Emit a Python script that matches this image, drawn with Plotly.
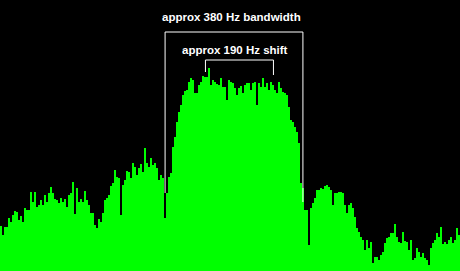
import plotly.graph_objects as go

# Spectrum levels (arbitrary units), one per 5.5 Hz bin
levels = [
    45, 36, 44, 44, 53, 49, 56, 60, 59, 51, 55, 49, 63, 61, 61, 79, 69, 79, 64, 66,
    71, 66, 76, 69, 78, 84, 78, 72, 71, 68, 73, 69, 72, 64, 76, 78, 89, 57, 83, 69,
    72, 69, 80, 71, 66, 58, 58, 46, 43, 52, 49, 58, 71, 73, 76, 85, 88, 101, 94, 93,
    56, 86, 91, 100, 99, 93, 108, 104, 96, 103, 107, 99, 123, 108, 104, 113, 106, 108, 103, 91,
    96, 93, 53, 78, 94, 98, 124, 134, 149, 159, 166, 176, 180, 181, 189, 193, 191, 178, 178, 186,
    189, 195, 194, 194, 203, 186, 191, 189, 187, 186, 193, 184, 184, 171, 191, 189, 188, 183, 176, 183,
    185, 178, 186, 188, 188, 181, 188, 189, 166, 188, 184, 193, 184, 188, 181, 189, 186, 181, 178, 189,
    183, 179, 178, 176, 164, 151, 149, 144, 139, 128, 88, 83, 61, 61, 26, 63, 68, 73, 81, 81,
    83, 82, 85, 86, 84, 81, 66, 78, 78, 79, 79, 78, 66, 58, 66, 68, 63, 54, 43, 39,
    34, 31, 21, 31, 23, 29, 8, 14, 14, 11, 16, 19, 28, 33, 34,
    38, 38, 47, 34, 29, 28, 39, 30, 29, 21, 31, 11, 13, 23, 19, 14, 18, 13, 11, 6,
    23, 28, 31, 38, 34, 44, 27, 29, 27, 31, 34, 28, 31, 43, 36,
]
bin_hz = 5.5
freqs = [(i + 0.5) * bin_hz for i in range(len(levels))]

# Annotation brackets (Hz / level units)
bw_lo, bw_hi = 454, 833
bw_top, bw_left_bottom, bw_right_bottom = 239, 78, 69
sh_lo, sh_hi = 565, 752
sh_top, sh_left_bottom, sh_right_bottom = 211, 199, 196
bw_label = "approx 380 Hz bandwidth"
sh_label = "approx 190 Hz shift"
bw_label_hz, sh_label_hz = 637, 646

fig = go.Figure()
fig.add_trace(go.Bar(x=freqs, y=levels, width=bin_hz,
                     marker=dict(color="#00ff00", line=dict(width=0))))

white = dict(color="white", width=1)
shapes = [
    dict(type="line", x0=bw_lo, x1=bw_hi, y0=bw_top, y1=bw_top, line=white),
    dict(type="line", x0=bw_lo, x1=bw_lo, y0=bw_top, y1=bw_left_bottom, line=white),
    dict(type="line", x0=bw_hi, x1=bw_hi, y0=bw_top, y1=bw_right_bottom, line=white),
    dict(type="line", x0=sh_lo, x1=sh_hi, y0=sh_top, y1=sh_top, line=white),
    dict(type="line", x0=sh_lo, x1=sh_lo, y0=sh_top, y1=sh_left_bottom, line=white),
    dict(type="line", x0=sh_hi, x1=sh_hi, y0=sh_top, y1=sh_right_bottom, line=white),
]
for s in shapes:
    s.update(xref="x", yref="y", layer="above")

font = dict(family="Liberation Sans, Arial, sans-serif", size=11.5, color="white")
fig.update_layout(
    width=460, height=271,
    margin=dict(l=0, r=0, t=0, b=0),
    paper_bgcolor="black", plot_bgcolor="black",
    bargap=0, showlegend=False,
    xaxis=dict(range=[0, 460 * 2.75], visible=False, fixedrange=True),
    yaxis=dict(range=[0, 271], visible=False, fixedrange=True),
    shapes=shapes,
    annotations=[
        dict(x=bw_label_hz, y=254, text="<b>" + bw_label + "</b>",
             showarrow=False, xref="x", yref="y", font=font),
        dict(x=sh_label_hz, y=221, text="<b>" + sh_label + "</b>",
             showarrow=False, xref="x", yref="y", font=font),
    ],
)
fig.write_html("out.html", config={"displayModeBar": False})
